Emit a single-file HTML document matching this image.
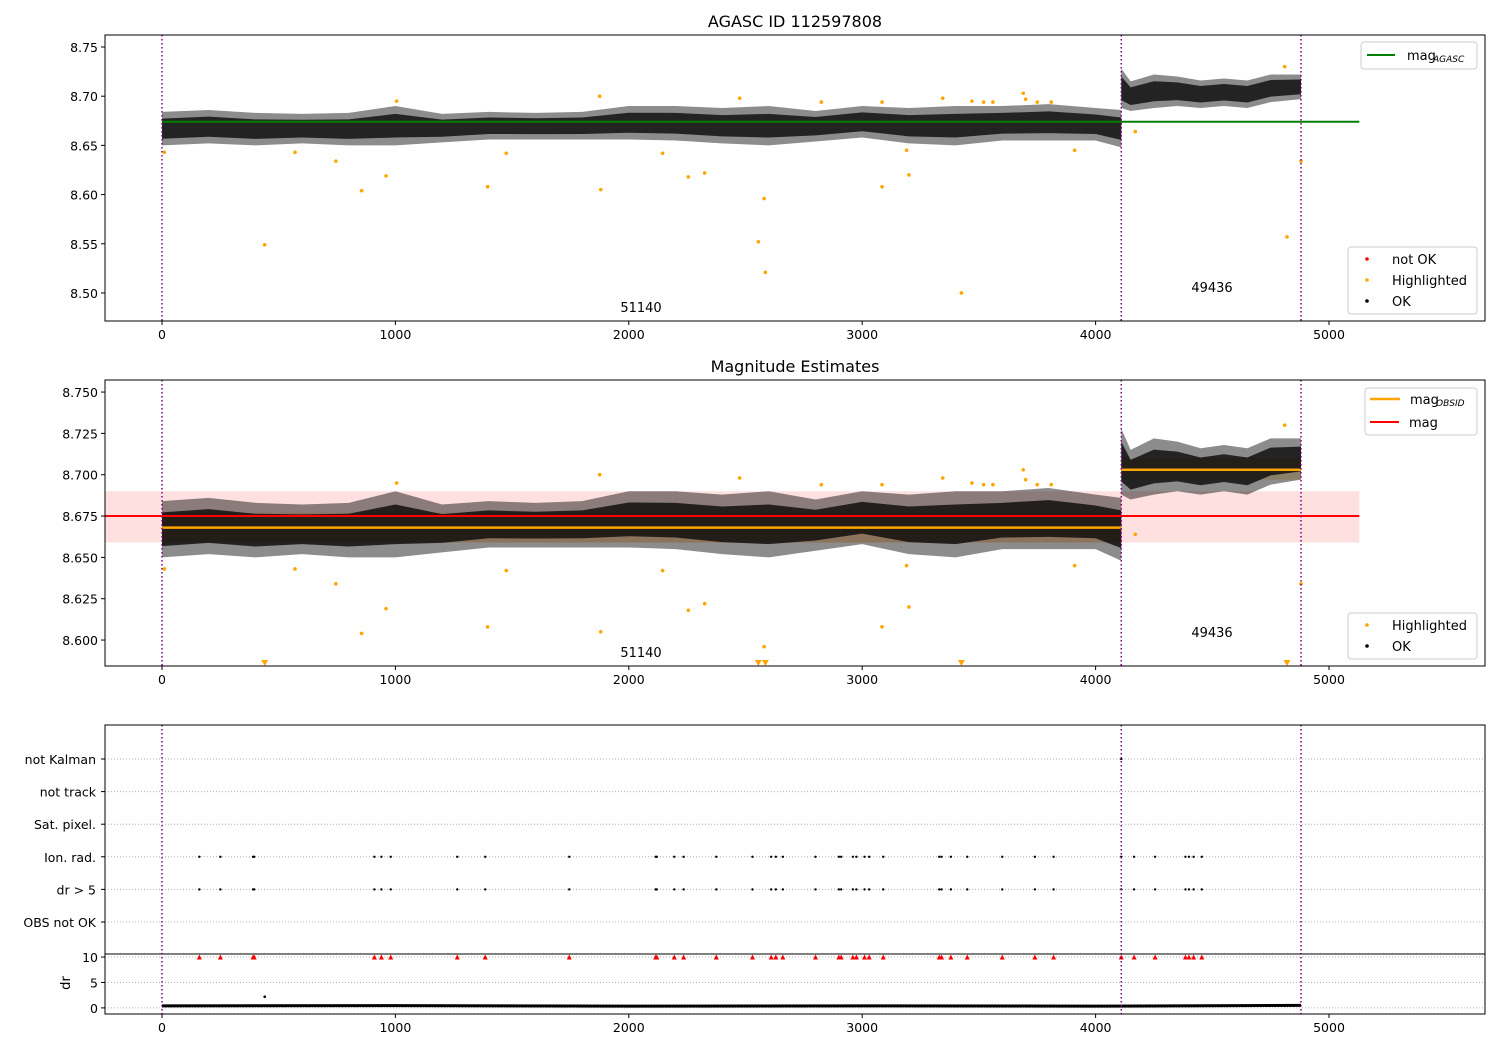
<!DOCTYPE html>
<html><head><meta charset="utf-8"><style>
body{margin:0;background:#fff;font-family:"Liberation Sans","DejaVu Sans",sans-serif}
svg text{font-family:"DejaVu Sans","Liberation Sans",sans-serif;font-size:13px;fill:#000}
</style></head><body>
<svg id="c" width="1500" height="1050" xmlns="http://www.w3.org/2000/svg"></svg>
<script>
// ---- data ----
const seg1X=[0,200,400,600,800,1000,1200,1400,1600,1800,2000,2200,2400,2600,2800,3000,3200,3400,3600,3800,4000,4110];
const seg1Hi=[8.684,8.686,8.683,8.682,8.683,8.690,8.682,8.684,8.683,8.684,8.690,8.690,8.688,8.690,8.685,8.690,8.688,8.690,8.690,8.692,8.688,8.686];
const seg1Lo=[8.650,8.652,8.650,8.652,8.650,8.650,8.653,8.656,8.656,8.656,8.656,8.655,8.652,8.650,8.654,8.658,8.652,8.650,8.655,8.655,8.655,8.648];
const seg2X=[4110,4150,4250,4350,4450,4550,4650,4750,4880];
const seg2Hi=[8.728,8.715,8.722,8.720,8.716,8.718,8.716,8.722,8.722];
const seg2Lo=[8.688,8.685,8.688,8.690,8.688,8.690,8.688,8.694,8.697];
const hlX=[10,440,570,745,855,960,1005,1395,1475,1875,1880,2145,2255,2325,2475,2555,2580,2585,2825,3085,3085,3190,3200,3345,3425,3470,3520,3560,3690,3700,3750,3810,3910,4170,4810,4820,4880];
const hlY=[8.643,8.549,8.643,8.634,8.604,8.619,8.695,8.608,8.642,8.700,8.605,8.642,8.618,8.622,8.698,8.552,8.596,8.521,8.694,8.608,8.694,8.645,8.620,8.698,8.500,8.695,8.694,8.694,8.703,8.697,8.694,8.694,8.645,8.664,8.730,8.557,8.634];
const flagX=[160,250,390,395,910,940,980,1265,1385,1745,2115,2120,2195,2235,2375,2530,2610,2630,2660,2800,2900,2910,2960,2975,3010,3030,3090,3330,3340,3380,3450,3600,3740,3820,4110,4165,4255,4385,4400,4420,4455];
const obsBounds=[0,4110,4880];
const obsMag=[8.668,8.703];
const obsLo=[8.659,8.697];
const obsHi=[8.677,8.710];
const magAgasc=8.674, magMean=8.675, magLo=8.659, magHi=8.690;
const drX=[0,1000,2000,3000,4000,4880];
const drY=[0.4,0.45,0.35,0.4,0.35,0.5];
const drSpikeX=[440];
const drSpikeY=[2.2];
const xTicks=[0,1000,2000,3000,4000,5000];
const y1Ticks=[8.50,8.55,8.60,8.65,8.70,8.75];
const y2Ticks=[8.600,8.625,8.650,8.675,8.700,8.725,8.750];
const catLabels=["not Kalman","not track","Sat. pixel.","Ion. rad.","dr > 5","OBS not OK"];
const drTicks=[0,5,10];
// ---- helpers ----
const S=document.getElementById('c'),NS="http://www.w3.org/2000/svg";
function el(t,a,p){const e=document.createElementNS(NS,t);for(const k in a)e.setAttribute(k,a[k]);(p||S).appendChild(e);return e;}
const L=105,R=1485;
const X=v=>162+v*0.2334;
function mkY(top,bot,vTop,vBot){return v=>top+(vTop-v)/(vTop-vBot)*(bot-top);}
const Y1=mkY(35,321,8.7622,8.4715);
const Y2=mkY(380,666,8.7573,8.5843);
const Yd=mkY(954,1014,10.6,-1.2);
function xAxis(bot,name){xTicks.forEach(t=>{el('line',{x1:X(t),x2:X(t),y1:bot,y2:bot+4,stroke:'#000'});const tx=el('text',{x:X(t),y:bot+18,'text-anchor':'middle'});tx.style.fontSize='12.5px';tx.textContent=t;});}
function yAxis(ticks,Y,fmt,name){ticks.forEach(t=>{el('line',{x1:L-4,x2:L,y1:Y(t),y2:Y(t),stroke:'#000'});const tx=el('text',{x:L-7,y:Y(t)+5,'text-anchor':'end'});tx.style.fontSize='12.5px';tx.textContent=t.toFixed(fmt);});}
function bandPath(xs,lo,hi,Y,shrink){const mid=i=>(lo[i]+hi[i])/2;const h=i=>mid(i)+(hi[i]-mid(i))*shrink,l=i=>mid(i)-(mid(i)-lo[i])*shrink;let d='M'+xs.map((x,i)=>X(x)+','+Y(h(i))).join('L');for(let i=xs.length-1;i>=0;i--)d+='L'+X(xs[i])+','+Y(l(i));return d+'Z';}
function band(xs,lo,hi,Y){const p=el('path',{d:bandPath(xs,lo,hi,Y,1),fill:'#000','fill-opacity':0.45});const q=el('path',{d:bandPath(xs,lo,hi,Y,0.6),fill:'#000','fill-opacity':0.75});}
function vlines(top,bot){obsBounds.forEach(b=>{const l=el('line',{x1:X(b),x2:X(b),y1:top,y2:bot,stroke:'#800080','stroke-width':1.5,'stroke-dasharray':'1.5,2.5'});});}
function frame(top,bot,name){const r=el('rect',{x:L,y:top,width:R-L,height:bot-top,fill:'none',stroke:'#000'});}
function txt(x,y,s,name,anchor,size){const t=el('text',{x:x,y:y,'text-anchor':anchor||'middle'});if(size)t.style.fontSize=size+'px';t.textContent=s;return t;}
function legend(x,y,w,h,name){const r=el('rect',{x:x,y:y,width:w,height:h,rx:3,fill:'#fff','fill-opacity':0.85,stroke:'#ccc'});}
// ---- panel 1 ----
txt(795,27,'AGASC ID 112597808','title-agasc',null,16);
band(seg1X,seg1Lo,seg1Hi,Y1);band(seg2X,seg2Lo,seg2Hi,Y1);
{const l=el('line',{x1:X(0),x2:X(5130),y1:Y1(magAgasc),y2:Y1(magAgasc),stroke:'green','stroke-width':2});}
hlX.forEach((x,i)=>{const c=el('circle',{cx:X(x),cy:Y1(hlY[i]),r:1.8,fill:'orange'});});
vlines(35,321);
txt(641,312,'51140','obsid-label-1');txt(1212,292,'49436','obsid-label-2');
frame(35,321,'panel1');xAxis(321,'panel1');yAxis(y1Ticks,Y1,2,'panel1');
legend(1361,42,116,27,'legend-agasc');
el('line',{x1:1367,x2:1395,y1:55,y2:55,stroke:'green','stroke-width':2});
txt(1407,60,'mag','legend-mag-agasc','start');txt(1433,62,'AGASC','legend-sub','start',9).style.fontStyle='italic';
legend(1348,247,129,67,'legend-status');
[['red','not OK',260],['orange','Highlighted',281],['#000','OK',302]].forEach(a=>{el('circle',{cx:1367,cy:a[2]-1,r:1.8,fill:a[0]});txt(1392,a[2]+4,a[1],'legend-entry','start');});
// ---- panel 2 ----
txt(795,372,'Magnitude Estimates','title-estimates',null,16);
{const r=el('rect',{x:L,y:Y2(magHi),width:X(5130)-L,height:Y2(magLo)-Y2(magHi),fill:'red','fill-opacity':0.12});}
obsMag.forEach((m,i)=>{const r=el('rect',{x:X(obsBounds[i]),y:Y2(obsHi[i]),width:X(obsBounds[i+1])-X(obsBounds[i]),height:Y2(obsLo[i])-Y2(obsHi[i]),fill:'orange','fill-opacity':0.25});});
band(seg1X,seg1Lo,seg1Hi,Y2);band(seg2X,seg2Lo,seg2Hi,Y2);
obsMag.forEach((m,i)=>{const l=el('line',{x1:X(obsBounds[i]),x2:X(obsBounds[i+1]),y1:Y2(m),y2:Y2(m),stroke:'orange','stroke-width':2.5});});
{const l=el('line',{x1:L,x2:X(5130),y1:Y2(magMean),y2:Y2(magMean),stroke:'red','stroke-width':2});}
hlX.forEach((x,i)=>{let c;if(hlY[i]<8.585){c=el('path',{d:`M${X(x)-3.5},660L${X(x)+3.5},660L${X(x)},666Z`,fill:'orange'});}else c=el('circle',{cx:X(x),cy:Y2(hlY[i]),r:1.8,fill:'orange'});});
vlines(380,666);
txt(641,657,'51140','obsid-label-1');txt(1212,637,'49436','obsid-label-2');
frame(380,666,'panel2');xAxis(666,'panel2');yAxis(y2Ticks,Y2,3,'panel2');
legend(1365,388,112,47,'legend-mag');
el('line',{x1:1370,x2:1400,y1:399,y2:399,stroke:'orange','stroke-width':2.5});el('line',{x1:1370,x2:1399,y1:422,y2:422,stroke:'red','stroke-width':2});
txt(1410,404,'mag','legend-mag-obsid','start');txt(1436,406,'OBSID','legend-sub','start',9).style.fontStyle='italic';txt(1409,427,'mag','legend-mag-mean','start');
legend(1348,613,129,46,'legend-status-2');
[['orange','Highlighted',626],['#000','OK',647]].forEach(a=>{el('circle',{cx:1367,cy:a[2]-1,r:1.8,fill:a[0]});txt(1392,a[2]+4,a[1],'legend-entry','start');});
// ---- panel 3 ----
const catY=i=>759+i*32.6;
catLabels.forEach((c,i)=>{el('line',{x1:L,x2:R,y1:catY(i),y2:catY(i),stroke:'#b0b0b0','stroke-dasharray':'1,2'});el('line',{x1:L-4,x2:L,y1:catY(i),y2:catY(i),stroke:'#000'});txt(L-9,catY(i)+5,c,'category-label','end',12.5);});
[3,4].forEach(ci=>flagX.forEach(x=>{const c=el('circle',{cx:X(x),cy:catY(ci),r:1.2,fill:'#000'});}));
{const c=el('circle',{cx:X(4110),cy:catY(0),r:1.2,fill:'#000'});}
drTicks.forEach(t=>{el('line',{x1:L,x2:R,y1:Yd(t),y2:Yd(t),stroke:'#b0b0b0','stroke-dasharray':'1,2'});el('line',{x1:L-4,x2:L,y1:Yd(t),y2:Yd(t),stroke:'#000'});txt(L-7,Yd(t)+5,t,'dr-y-tick','end',12.5);});
flagX.forEach(x=>{const p=el('path',{d:`M${X(x)-2.5},${Yd(10)+2.5}L${X(x)+2.5},${Yd(10)+2.5}L${X(x)},${Yd(10)-2.5}Z`,fill:'red'});});
{const p=el('polyline',{points:drX.map((x,i)=>X(x)+','+Yd(drY[i])).join(' '),fill:'none',stroke:'#000','stroke-width':3});}
drSpikeX.forEach((x,i)=>{const c=el('circle',{cx:X(x),cy:Yd(drSpikeY[i]),r:1.3,fill:'#000'});});
vlines(725,1014);
el('line',{x1:L,x2:R,y1:954,y2:954,stroke:'#000'});
frame(725,1014,'panel3');xAxis(1014,'panel3');
{const t=txt(70,983,'dr','dr-axis-title');t.setAttribute('transform','rotate(-90 70 983)');}
</script>
</body></html>
